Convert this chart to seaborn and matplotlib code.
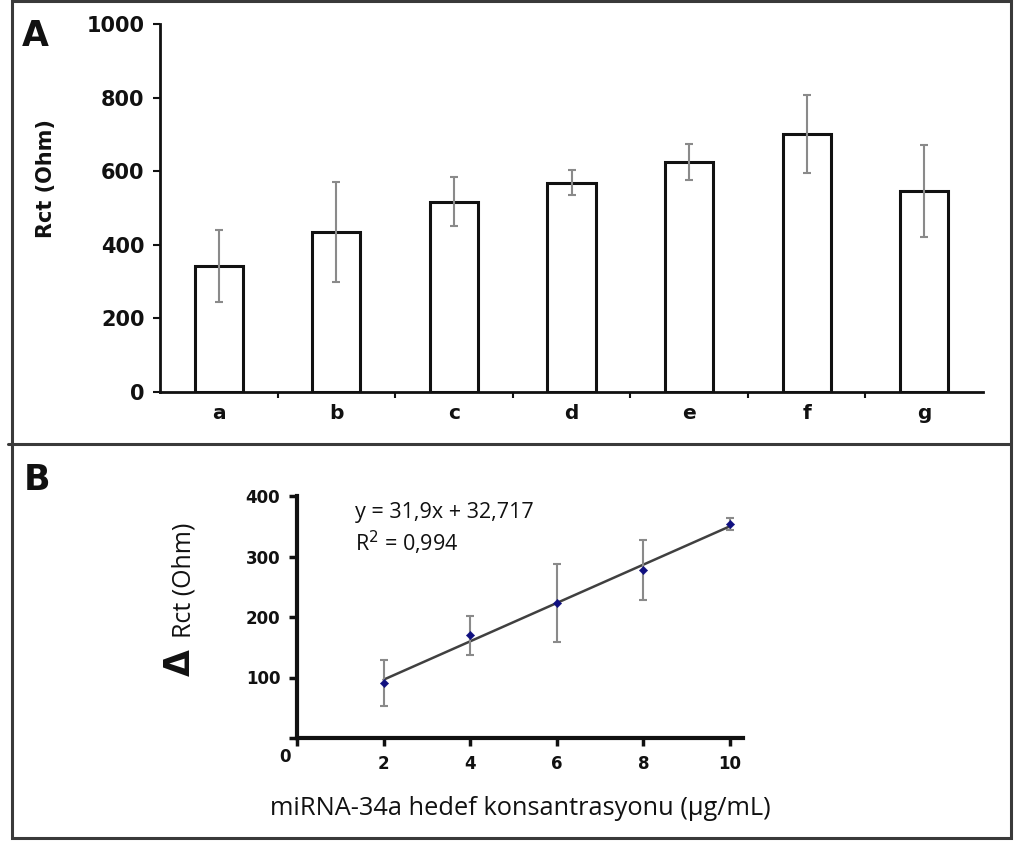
import matplotlib
matplotlib.use("Agg")
import numpy as np
import pandas as pd
import matplotlib.pyplot as plt
import seaborn as sns
from matplotlib.patches import Rectangle
from matplotlib.lines import Line2D

# ---------- DATA ----------
# Panel A: Rct per sample
groups = ["a", "b", "c", "d", "e", "f", "g"]
rct = [342, 435, 517, 569, 626, 701, 545]
rct_err = [98, 135, 66, 34, 49, 105, 125]

# Panel B: delta Rct vs miRNA-34a concentration
conc = [2, 4, 6, 8, 10]
d_rct = [91, 170, 223, 278, 354]
d_rct_err = [38, 32, 65, 50, 10]

eq_text = "y = 31,9x + 32,717"
r2_text = "R$^2$ = 0,994"

sns.set_theme(style="white")
plt.rcParams["font.family"] = ["DejaVu Sans"]
plt.rcParams["text.color"] = "#111111"
plt.rcParams["axes.labelcolor"] = "#111111"
plt.rcParams["xtick.color"] = "#111111"
plt.rcParams["ytick.color"] = "#111111"

fig = plt.figure(figsize=(10.28, 8.41), dpi=100)

# ---------- FRAME ----------
W, H = 1028, 841
def fx(p):
    return p / W
def fy(p):
    return 1 - p / H

frame_kw = dict(color="#3a3a3a", lw=2.2, transform=fig.transFigure)
fig.add_artist(Rectangle((fx(12), fy(838)), fx(1011) - fx(12), fy(1) - fy(838),
                         fill=False, edgecolor="#3a3a3a", lw=2.2, transform=fig.transFigure))
fig.add_artist(Line2D([fx(8), fx(1011)], [fy(444), fy(444)], **frame_kw))

# ---------- PANEL A ----------
axA = fig.add_axes([fx(160), fy(392), fx(983) - fx(160), fy(24) - fy(392)])
dfA = pd.DataFrame({"group": groups, "rct": rct})
sns.barplot(data=dfA, x="group", y="rct", color="white", edgecolor="#111111",
            linewidth=2.2, width=0.41, ax=axA)
axA.errorbar(np.arange(len(groups)), rct, yerr=rct_err, fmt="none",
             ecolor="#8a8a8a", elinewidth=1.5, capsize=3, capthick=1.5, zorder=5)
axA.set_xlim(-0.5, 6.5)
axA.set_ylim(0, 1000)
axA.set_yticks([0, 200, 400, 600, 800, 1000])
axA.set_xticks(np.arange(len(groups)))
axA.set_xticklabels(groups, fontsize=14.5, fontweight="bold")
axA.set_xticks(np.arange(len(groups) - 1) + 0.5, minor=True)
for lab in axA.get_yticklabels():
    lab.set_fontsize(15)
    lab.set_fontweight("bold")
axA.tick_params(axis="x", which="major", length=0, pad=9)
axA.tick_params(axis="x", which="minor", length=4, width=1.5, color="#111111", direction="out", bottom=True)
axA.tick_params(axis="y", length=5, width=1.5, color="#111111", direction="out", left=True, pad=6)
axA.set_xlabel("")
axA.set_ylabel("")
fig.text(fx(46), fy(179), "Rct (Ohm)", rotation=90, fontsize=15, fontweight="bold",
         ha="center", va="center")
for s in ["top", "right"]:
    axA.spines[s].set_visible(False)
for s in ["left", "bottom"]:
    axA.spines[s].set_color("#111111")
    axA.spines[s].set_linewidth(2)
fig.text(fx(22), fy(46), "A", fontsize=25, fontweight="bold", color="#111111")

# ---------- PANEL B ----------
axB = fig.add_axes([fx(297), fy(738), fx(743) - fx(297), fy(496) - fy(738)])
sns.regplot(x=conc, y=d_rct, ci=None, scatter=False, truncate=True, ax=axB,
            line_kws=dict(color="#404040", lw=1.8))
axB.errorbar(conc, d_rct, yerr=d_rct_err, fmt="none", ecolor="#8a8a8a",
             elinewidth=1.5, capsize=3, capthick=1.5, zorder=3)
sns.scatterplot(x=conc, y=d_rct, marker="D", s=18, color="#101080",
                edgecolor="#101080", ax=axB, zorder=4)
axB.set_xlim(0, 10.3)
axB.set_ylim(0, 400)
axB.set_xticks([0, 2, 4, 6, 8, 10])
axB.set_xticklabels(["", "2", "4", "6", "8", "10"])
axB.set_yticks([0, 100, 200, 300, 400])
axB.set_yticklabels(["", "100", "200", "300", "400"])
for lab in axB.get_xticklabels() + axB.get_yticklabels():
    lab.set_fontsize(12)
    lab.set_fontweight("bold")
axB.tick_params(axis="both", length=6, width=2.5, color="#111111", direction="out",
                left=True, bottom=True, pad=6)
axB.annotate("0", xy=(0, 0), xytext=(-9, -14), textcoords="offset points",
             fontsize=12, fontweight="bold", ha="center", va="center")
for s in ["top", "right"]:
    axB.spines[s].set_visible(False)
for s in ["left", "bottom"]:
    axB.spines[s].set_color("#111111")
    axB.spines[s].set_linewidth(3)
axB.set_xlabel("miRNA-34a hedef konsantrasyonu (µg/mL)", fontsize=18.3, labelpad=17,
               family=["Open Sans", "DejaVu Sans"])
axB.set_ylabel("")
fig.text(fx(184), fy(580), "Rct (Ohm)", rotation=90, fontsize=18, ha="center", va="center",
         family=["Open Sans", "DejaVu Sans"])
fig.text(fx(180), fy(663), "Δ", rotation=90, fontsize=25, fontweight="bold",
         ha="center", va="center")
axB.text(0.13, 0.93, eq_text, transform=axB.transAxes, fontsize=15.5,
         family=["Open Sans", "DejaVu Sans"], va="center")
axB.text(0.13, 0.805, r2_text, transform=axB.transAxes, fontsize=15.5,
         family=["Open Sans", "DejaVu Sans"], va="center")
fig.text(fx(24), fy(490), "B", fontsize=25, fontweight="bold", color="#111111")

fig.savefig("out.png", dpi=100)
